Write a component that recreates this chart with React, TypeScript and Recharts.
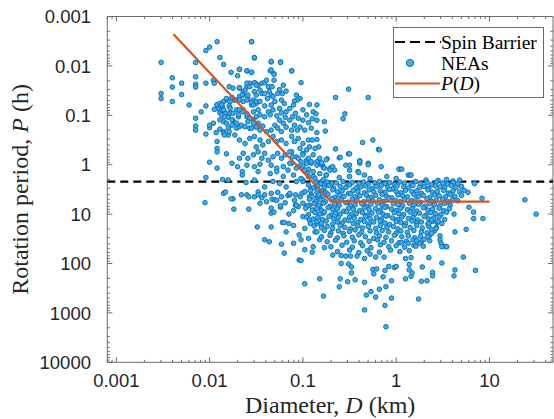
import React from 'react';
import { ScatterChart, Scatter, XAxis, YAxis } from 'recharts';

// ---------- layout constants (styling only) ----------
const W = 554;
const H = 419;
const PLOT = { left: 107.3, top: 16.5, right: 553, bottom: 362.3 };
const AX = 1; // thickness reserved for each axis band
const X_DOMAIN = [0.0008, 48];
const Y_DOMAIN = [0.001, 10000];
const BOX = '#6a6a6a';
const INK = '#262626';
const SERIF = '"Liberation Serif", "Times New Roman", serif';
const SANS = '"Liberation Sans", Arial, Helvetica, sans-serif';
const TITLE_SIZE = 24;

// ---------- axis ticks ----------
const xMajorTicks = [0.001, 0.01, 0.1, 1, 10];
const xTickLabels = ['0.001', '0.01', '0.1', '1', '10'];
const xMinorTicks = [
  0.0008, 0.0009,
  0.002, 0.003, 0.004, 0.005, 0.006, 0.007, 0.008, 0.009,
  0.02, 0.03, 0.04, 0.05, 0.06, 0.07, 0.08, 0.09,
  0.2, 0.3, 0.4, 0.5, 0.6, 0.7, 0.8, 0.9,
  2, 3, 4, 5, 6, 7, 8, 9,
  20, 30, 40,
];
const yMajorTicks = [0.001, 0.01, 0.1, 1, 10, 100, 1000, 10000];
const yTickLabels = ['0.001', '0.01', '0.1', '1', '10', '100', '1000', '10000'];
const yMinorTicks = [
  0.002, 0.003, 0.004, 0.005, 0.006, 0.007, 0.008, 0.009,
  0.02, 0.03, 0.04, 0.05, 0.06, 0.07, 0.08, 0.09,
  0.2, 0.3, 0.4, 0.5, 0.6, 0.7, 0.8, 0.9,
  2, 3, 4, 5, 6, 7, 8, 9,
  20, 30, 40, 50, 60, 70, 80, 90,
  200, 300, 400, 500, 600, 700, 800, 900,
  2000, 3000, 4000, 5000, 6000, 7000, 8000, 9000,
];

// ---------- reference lines ----------
const spinBarrierHours = 2.2;
const spinBarrierD = [0.0008, 48];
const pdDiameter = [0.0041, 0.2, 10];
const pdPeriod = [0.0023, 5.6, 5.6];

// ---------- NEA points as [log10 D (km), log10 P (h)] ----------
const neaSparseLeft: [number, number][] = [
  [-2.52, -2.07], [-2.52, -1.44], [-2.52, -1.34], [-2.40, -1.76], [-2.40, -1.57], [-2.40, -1.28],
  [-2.30, -1.65], [-2.30, -1.42], [-2.22, -1.21], [-2.15, -2.07], [-2.15, -1.78], [-2.15, -1.63],
  [-2.15, -1.57], [-2.04, -2.31], [-2.00, -2.38], [-1.92, -2.49], [-1.55, -2.49], [-1.89, -2.17],
  [-1.85, -2.03], [-1.52, -2.16], [-1.34, -2.08], [-1.24, -2.08], [-1.77, -1.87], [-1.68, -1.93],
  [-1.60, -1.90], [-1.55, -1.87], [-1.35, -1.90], [-1.31, -1.84], [-1.12, -1.90], [-2.04, -1.65],
  [-1.96, -1.71], [-1.95, -1.65], [-2.09, -1.07], [-2.15, -0.94], [-2.15, -0.78], [-2.15, -0.70],
  [-2.04, -1.19], [-2.00, -0.75], [-2.04, -0.62], [-1.79, -1.58], [-1.75, -1.55], [-1.92, -1.21],
  [-1.91, -1.13], [-1.89, -1.05], [-1.86, -1.17], [-1.85, -1.02], [-1.95, -1.12],
];

const neaLowerLeft: [number, number][] = [
  [-2.00, -0.05], [-2.04, 0.26], [-1.92, 0.07], [-1.92, -0.33], [-1.92, -0.26], [-1.82, -0.22],
  [-1.86, 0.30], [-1.80, 0.31], [-1.85, 0.58], [-1.83, 0.55], [-1.76, -0.03], [-1.70, 0.04],
  [-1.68, -0.13], [-2.05, 0.77], [-1.75, 0.69], [-1.77, 0.69], [-1.65, 0.14], [-1.65, 0.21],
  [-1.61, 0.36], [-1.60, 0.61], [-1.58, 0.65], [-1.52, 0.31], [-1.48, 0.14], [-1.48, 0.55],
  [-1.48, 0.61], [-1.85, -0.67], [-1.85, -0.64], [-1.80, -0.74], [-1.80, -0.60], [-1.92, -0.47],
  [-2.00, -0.80], [-1.96, -0.84], [-1.74, 0.90], [-1.66, 0.61], [-1.58, 0.90], [-1.52, 0.65],
  [-1.44, 0.67], [-1.41, 0.61], [-1.49, 1.26], [-1.34, 1.26], [-1.41, 1.52], [-1.36, 1.56],
  [-1.34, 0.98], [-1.31, 0.96], [-1.33, 0.70], [-1.30, 0.71], [-1.27, 0.56], [-1.24, 0.86],
  [-1.24, 0.83], [-1.22, 1.17], [-1.20, 1.17], [-1.15, 1.19], [-1.10, 1.23], [-1.18, 1.36],
  [-1.23, 1.61], [-1.20, 1.79], [-1.10, 1.59], [-1.19, 0.77], [-1.15, 1.00], [-1.10, 0.93],
  [-1.08, 0.82], [-1.05, 0.85], [-1.16, 0.62], [-1.14, 0.61], [-1.08, 0.61], [-1.04, 1.93],
  [-1.04, 1.42],
];

const neaBandUpper: [number, number][] = [
  [-1.92, -1.21], [-1.89, -1.24], [-1.85, -1.28], [-1.81, -1.31], [-1.76, -1.36], [-1.73, -1.31],
  [-1.79, -1.19], [-1.87, -1.11], [-1.83, -1.05], [-1.78, -1.04], [-1.71, -1.11], [-1.87, -1.01],
  [-1.80, -0.96], [-1.75, -0.90], [-1.69, -0.97], [-1.85, -0.87], [-1.76, -0.80], [-1.71, -0.74],
  [-1.79, -0.67], [-1.84, -0.60], [-1.73, -0.60], [-1.89, -0.72], [-1.93, -0.65],
  [-1.68, -1.55], [-1.64, -1.48], [-1.60, -1.58], [-1.57, -1.65], [-1.51, -1.65], [-1.48, -1.61],
  [-1.82, -1.34], [-1.78, -1.28], [-1.73, -1.31], [-1.68, -1.38], [-1.64, -1.41], [-1.59, -1.34],
  [-1.53, -1.31], [-1.50, -1.24], [-1.55, -1.21], [-1.78, -1.14], [-1.75, -1.04], [-1.69, -1.01],
  [-1.64, -1.11], [-1.60, -0.97], [-1.53, -0.91], [-1.50, -0.97], [-1.48, -0.84], [-1.87, -1.21],
  [-1.85, -1.11], [-1.84, -0.97], [-1.89, -0.91], [-1.82, -0.84], [-1.76, -0.91], [-1.71, -0.84],
  [-1.68, -0.77], [-1.57, -0.74], [-1.70, -1.80],
  [-1.12, -0.26], [-1.07, -0.16], [-1.00, -0.23], [-0.96, -0.09], [-0.89, -0.20], [-0.82, -0.13],
  [-0.79, 0.01], [-1.12, -0.03], [-1.05, 0.04],
];

const neaBandCore: [number, number][] = [
  [-1.55, -2.49], [-1.52, -2.17], [-1.68, -1.93], [-1.60, -1.90], [-1.55, -1.87], [-1.34, -2.09],
  [-1.24, -2.07], [-1.34, -1.92], [-1.31, -1.83], [-1.12, -1.90], [-1.31, -1.71], [-1.02, -1.66],
  [-1.68, -1.56], [-1.60, -1.65], [-1.57, -1.58], [-1.52, -1.66], [-1.50, -1.61], [-1.44, -1.65],
  [-1.41, -1.66], [-1.39, -1.71], [-1.37, -1.58], [-1.33, -1.58], [-1.21, -1.61], [-1.25, -1.52],
  [-1.22, -1.44], [-1.27, -1.44], [-1.18, -1.49], [-1.62, -1.51], [-1.52, -1.48], [-1.44, -1.44],
  [-1.50, -1.41], [-1.59, -1.41], [-1.65, -1.41], [-1.41, -1.44], [-1.46, -1.51], [-1.36, -1.48],
  [-1.34, -1.41], [-1.38, -1.34], [-1.32, -1.38], [-1.07, -1.41], [-1.03, -1.34], [-1.06, -1.31],
  [-1.09, -1.29], [-1.68, -1.31], [-1.64, -1.28], [-1.60, -1.31], [-1.55, -1.26], [-1.50, -1.28],
  [-1.46, -1.28], [-1.53, -1.21], [-1.34, -1.21], [-1.20, -1.24], [-0.93, -1.22], [-0.85, -1.21],
  [-0.65, -1.36], [-0.51, -1.53], [-0.30, -1.36], [-1.25, -1.14], [-1.41, -1.19], [-1.14, -1.14],
  [-1.10, -1.21], [-1.30, -1.28], [-1.23, -1.31],
  [-1.68, -1.11], [-1.64, -1.07], [-1.60, -1.03], [-1.57, -0.94], [-1.53, -1.07], [-1.48, -1.11],
  [-1.46, -1.01], [-1.41, -0.97], [-1.37, -1.07], [-1.35, -1.01], [-1.32, -1.11], [-1.28, -0.99],
  [-1.25, -0.90], [-1.23, -1.05], [-1.19, -0.96], [-1.18, -1.07], [-1.14, -0.90], [-1.11, -0.97],
  [-1.08, -1.04], [-1.05, -0.94], [-1.00, -0.90], [-1.00, -1.11], [-0.89, -1.07], [-0.86, -1.03],
  [-0.96, -1.01], [-0.90, -0.93], [-0.55, -1.03], [-0.57, -0.93], [-0.85, -0.90],
  [-1.66, -0.80], [-1.62, -0.77], [-1.59, -0.87], [-1.55, -0.74], [-1.53, -0.84], [-1.50, -0.76],
  [-1.46, -0.70], [-1.43, -0.78], [-1.39, -0.67], [-1.34, -0.70], [-1.30, -0.80], [-1.27, -0.74],
  [-1.23, -0.67], [-1.21, -0.84], [-1.18, -0.76], [-1.12, -0.70], [-1.09, -0.80], [-1.06, -0.70],
  [-1.03, -0.76], [-0.98, -0.70], [-0.94, -0.85], [-0.85, -0.65], [-0.76, -0.68], [-0.91, -0.74],
  [-0.77, -0.87],
  [-1.68, -0.50], [-1.62, -0.43], [-1.57, -0.53], [-1.52, -0.57], [-1.46, -0.50], [-1.50, -0.36],
  [-1.43, -0.40], [-1.37, -0.47], [-1.32, -0.57], [-1.28, -0.47], [-1.23, -0.50], [-1.18, -0.43],
  [-1.12, -0.57], [-1.09, -0.47], [-1.05, -0.53], [-1.00, -0.43], [-0.94, -0.50], [-0.90, -0.50],
  [-0.85, -0.51], [-0.93, -0.36], [-0.83, -0.36], [-0.87, -0.33], [-1.03, -0.33], [-0.96, -0.30],
  [-0.65, -0.32], [-0.36, -0.45], [-0.25, -0.50], [-0.19, -0.31],
  [-1.64, -0.23], [-1.59, -0.13], [-1.53, -0.20], [-1.48, -0.26], [-1.44, -0.13], [-1.41, -0.23],
  [-1.37, -0.09], [-1.32, -0.16], [-1.27, -0.23], [-1.23, -0.13], [-1.19, -0.20], [-1.14, -0.26],
  [-1.11, -0.16], [-1.05, -0.13], [-1.00, -0.20], [-0.94, -0.13], [-0.91, -0.03], [-0.85, -0.06],
  [-0.81, -0.01], [-0.78, 0.06], [-0.74, -0.12], [-0.61, -0.14], [-0.51, -0.22], [-0.39, -0.08],
  [-0.30, -0.03], [-0.50, 0.01], [-0.71, 0.07], [-0.68, 0.04], [-1.60, 0.01], [-1.52, 0.04],
  [-1.46, -0.01], [-1.34, 0.01], [-1.28, 0.07], [-1.21, 0.04], [-1.14, -0.03], [-1.07, 0.07],
  [-1.00, 0.03], [-0.94, 0.09],
];

const neaJunction: [number, number][] = [
  [-1.35, 0.18], [-1.28, 0.14], [-1.21, 0.24], [-1.16, 0.11], [-1.10, 0.21], [-1.32, 0.34],
  [-1.25, 0.38], [-1.18, 0.45], [-1.07, 0.34], [-1.00, 0.31], [-0.95, 0.18], [-0.89, 0.24],
  [-0.86, 0.45], [-0.80, 0.34], [-0.75, 0.21], [-0.77, 0.55], [-0.84, 0.65], [-0.91, 0.61],
  [-0.98, 0.55], [-1.03, 0.65], [-1.09, 0.72], [-1.14, 0.58], [-1.23, 0.65], [-1.28, 0.72],
  [-1.34, 0.58], [-1.39, 0.75], [-1.46, 0.78], [-1.41, 0.45], [-1.07, 0.82], [-1.00, 0.78],
  [-0.93, 0.82], [-1.34, 0.88],
  [-1.01, 0.58], [-0.98, 0.55], [-0.93, 0.65], [-0.87, 0.75], [-0.84, 0.65], [-0.96, 0.85],
  [-0.89, 0.92], [-0.82, 0.85], [-0.78, 0.98], [-1.00, 1.05], [-0.93, 1.12], [-0.85, 1.19],
  [-0.98, 1.29], [-0.80, 1.25], [-0.87, 1.36], [-0.94, 1.49], [-0.82, 1.52], [-1.02, 1.52],
  [-0.89, 1.66], [-0.77, 0.41], [-0.85, 0.38], [-0.94, 0.41], [-1.00, 0.34], [-0.91, 0.48],
];

const neaAboveBarrier: [number, number][] = [
  [-0.54, 0.01], [-0.39, -0.03], [-0.30, 0.00], [-0.16, 0.04], [0.04, 0.09], [-0.50, 0.11],
  [-0.41, 0.14], [-0.50, 0.24], [-0.61, 0.26], [-0.28, 0.28], [-0.34, 0.21], [-0.10, 0.24],
  [0.00, 0.28], [0.13, 0.21], [-0.66, 0.11],
  [-1.02, -0.06], [-0.96, -0.03], [-0.91, -0.06], [-0.85, 0.01], [-0.80, -0.04], [-0.77, 0.07],
  [-0.98, 0.11], [-0.89, 0.14], [-0.82, 0.18], [-0.75, 0.21], [-0.94, 0.24], [-1.02, 0.28],
  [-0.87, 0.28], [-0.78, 0.30],
  [-0.50, -0.22], [-0.60, -0.15], [-0.39, -0.07], [-0.18, -0.30], [0.03, 0.09], [0.15, 0.21],
  [-0.75, -0.10], [-0.40, 0.16], [-0.71, 0.11],
  [0.32, 0.31], [0.45, 0.32], [0.54, 0.30], [0.61, 0.33], [0.68, 0.31], [0.84, 0.38],
  [0.16, 0.21], [0.06, 0.09],
];

// dense main cluster (0.1–5 km, 2–15 h)
const neaClusterCore: [number, number][] = [
  [-0.86, 0.36], [-0.81, 0.39], [-0.74, 0.35], [-0.69, 0.38], [-0.64, 0.37], [-0.57, 0.34], [-0.52, 0.40],
  [-0.47, 0.36], [-0.40, 0.38], [-0.35, 0.35], [-0.30, 0.39], [-0.23, 0.37], [-0.18, 0.34], [-0.12, 0.38],
  [-0.07, 0.36], [-0.02, 0.40], [0.04, 0.35], [0.09, 0.37], [0.16, 0.39], [0.21, 0.34], [0.26, 0.38],
  [0.33, 0.36], [0.38, 0.40], [0.43, 0.35], [0.50, 0.37], [0.55, 0.39], [0.61, 0.36], [0.66, 0.38],
  [-0.89, 0.47], [-0.84, 0.43], [-0.77, 0.46], [-0.72, 0.42], [-0.67, 0.48], [-0.60, 0.44], [-0.54, 0.46],
  [-0.50, 0.41], [-0.43, 0.47], [-0.38, 0.45], [-0.33, 0.43], [-0.26, 0.48], [-0.21, 0.44], [-0.16, 0.42],
  [-0.09, 0.46], [-0.04, 0.49], [0.01, 0.43], [0.08, 0.45], [0.13, 0.47], [0.18, 0.42], [0.25, 0.46],
  [0.30, 0.44], [0.35, 0.48], [0.42, 0.43], [0.47, 0.45], [0.52, 0.47], [0.59, 0.42], [0.64, 0.46],
  [0.70, 0.44],
  [-0.92, 0.52], [-0.85, 0.56], [-0.80, 0.53], [-0.75, 0.57], [-0.68, 0.51], [-0.63, 0.55], [-0.58, 0.53],
  [-0.51, 0.58], [-0.46, 0.52], [-0.41, 0.54], [-0.34, 0.57], [-0.29, 0.51], [-0.24, 0.55], [-0.17, 0.53],
  [-0.12, 0.56], [-0.07, 0.50], [0.00, 0.54], [0.05, 0.57], [0.10, 0.52], [0.17, 0.55], [0.22, 0.53],
  [0.27, 0.58], [0.34, 0.51], [0.39, 0.56], [0.44, 0.54], [0.51, 0.52], [0.56, 0.57], [0.61, 0.53],
  [0.68, 0.55], [0.73, 0.52],
  [-0.90, 0.65], [-0.83, 0.61], [-0.78, 0.64], [-0.73, 0.60], [-0.66, 0.66], [-0.61, 0.62], [-0.56, 0.64],
  [-0.49, 0.59], [-0.44, 0.65], [-0.39, 0.63], [-0.32, 0.61], [-0.27, 0.66], [-0.22, 0.62], [-0.15, 0.60],
  [-0.10, 0.64], [-0.05, 0.67], [0.02, 0.61], [0.07, 0.63], [0.12, 0.65], [0.19, 0.60], [0.24, 0.64],
  [0.29, 0.62], [0.36, 0.66], [0.41, 0.61], [0.46, 0.63], [0.53, 0.65], [0.58, 0.60], [0.63, 0.64],
  [0.70, 0.62],
  [-0.93, 0.70], [-0.86, 0.74], [-0.81, 0.71], [-0.76, 0.75], [-0.69, 0.69], [-0.64, 0.73], [-0.59, 0.71],
  [-0.52, 0.76], [-0.47, 0.70], [-0.42, 0.72], [-0.35, 0.75], [-0.30, 0.69], [-0.25, 0.73], [-0.18, 0.71],
  [-0.13, 0.74], [-0.08, 0.68], [-0.01, 0.72], [0.04, 0.75], [0.09, 0.70], [0.16, 0.73], [0.21, 0.71],
  [0.26, 0.76], [0.33, 0.69], [0.38, 0.74], [0.43, 0.72], [0.50, 0.70], [0.55, 0.75], [0.60, 0.71],
  [0.66, 0.73],
  [-0.95, 0.83], [-0.88, 0.79], [-0.83, 0.82], [-0.78, 0.78], [-0.71, 0.84], [-0.66, 0.80], [-0.61, 0.82],
  [-0.54, 0.77], [-0.49, 0.83], [-0.44, 0.81], [-0.37, 0.79], [-0.32, 0.84], [-0.27, 0.80], [-0.20, 0.78],
  [-0.15, 0.82], [-0.10, 0.85], [-0.03, 0.79], [0.02, 0.81], [0.07, 0.83], [0.14, 0.78], [0.19, 0.82],
  [0.24, 0.80], [0.31, 0.84], [0.36, 0.79], [0.41, 0.81], [0.47, 0.83], [0.52, 0.78], [0.58, 0.82],
  [-0.97, 0.88], [-0.90, 0.92], [-0.85, 0.89], [-0.80, 0.93], [-0.73, 0.87], [-0.68, 0.91], [-0.63, 0.89],
  [-0.56, 0.94], [-0.51, 0.88], [-0.46, 0.90], [-0.39, 0.93], [-0.34, 0.87], [-0.29, 0.91], [-0.22, 0.89],
  [-0.17, 0.92], [-0.12, 0.86], [-0.05, 0.90], [0.00, 0.93], [0.05, 0.88], [0.12, 0.91], [0.17, 0.89],
  [0.22, 0.94], [0.29, 0.87], [0.34, 0.92], [0.39, 0.90], [0.46, 0.88], [0.51, 0.93], [0.57, 0.89],
  [-0.94, 1.01], [-0.87, 0.97], [-0.82, 1.00], [-0.77, 0.96], [-0.70, 1.02], [-0.65, 0.98], [-0.60, 1.00],
  [-0.53, 0.95], [-0.48, 1.01], [-0.43, 0.99], [-0.36, 0.97], [-0.31, 1.02], [-0.26, 0.98], [-0.19, 0.96],
  [-0.14, 1.00], [-0.09, 1.03], [-0.02, 0.97], [0.03, 0.99], [0.08, 1.01], [0.15, 0.96], [0.20, 1.00],
  [0.25, 0.98], [0.32, 1.02], [0.37, 0.97], [0.42, 0.99], [0.48, 1.01], [0.54, 0.96],
  [-0.96, 1.06], [-0.89, 1.10], [-0.84, 1.07], [-0.79, 1.11], [-0.72, 1.05], [-0.67, 1.09], [-0.62, 1.07],
  [-0.55, 1.12], [-0.50, 1.06], [-0.45, 1.08], [-0.38, 1.11], [-0.33, 1.05], [-0.28, 1.09], [-0.21, 1.07],
  [-0.16, 1.10], [-0.11, 1.04], [-0.04, 1.08], [0.01, 1.11], [0.06, 1.06], [0.13, 1.09], [0.18, 1.07],
  [0.23, 1.12], [0.30, 1.05], [0.35, 1.10], [0.40, 1.08], [0.46, 1.06], [0.52, 1.11],
  [-0.92, 1.19], [-0.85, 1.15], [-0.80, 1.18], [-0.75, 1.14], [-0.68, 1.20], [-0.63, 1.16], [-0.58, 1.18],
  [-0.51, 1.13], [-0.46, 1.19], [-0.41, 1.17], [-0.34, 1.15], [-0.29, 1.20], [-0.24, 1.16], [-0.17, 1.14],
  [-0.12, 1.18], [-0.07, 1.21], [0.00, 1.15], [0.05, 1.17], [0.10, 1.19], [0.17, 1.14], [0.22, 1.18],
  [0.27, 1.16], [0.34, 1.20], [0.39, 1.15], [0.44, 1.17], [0.49, 1.19],
];

const neaClusterLower: [number, number][] = [
  [-0.88, 1.24], [-0.80, 1.28], [-0.74, 1.25], [-0.68, 1.29], [-0.60, 1.23], [-0.55, 1.27], [-0.49, 1.30],
  [-0.41, 1.24], [-0.36, 1.28], [-0.30, 1.25], [-0.22, 1.29], [-0.17, 1.23], [-0.10, 1.27], [-0.03, 1.25],
  [0.02, 1.30], [0.09, 1.24], [0.15, 1.27], [0.22, 1.23], [0.28, 1.28], [0.35, 1.25], [0.43, 1.27],
  [-0.85, 1.36], [-0.77, 1.33], [-0.70, 1.38], [-0.62, 1.34], [-0.57, 1.39], [-0.50, 1.35], [-0.44, 1.32],
  [-0.37, 1.37], [-0.28, 1.34], [-0.21, 1.38], [-0.15, 1.33], [-0.08, 1.36], [0.00, 1.39], [0.05, 1.34],
  [0.12, 1.37], [0.19, 1.33], [0.27, 1.36], [0.33, 1.38], [0.41, 1.34],
  [-0.80, 1.46], [-0.71, 1.43], [-0.63, 1.48], [-0.56, 1.44], [-0.47, 1.47], [-0.40, 1.42], [-0.33, 1.46],
  [-0.24, 1.49], [-0.18, 1.44], [-0.11, 1.47], [-0.02, 1.43], [0.06, 1.46], [0.13, 1.44], [0.20, 1.48],
  [0.26, 1.45], [0.36, 1.43],
  [-0.74, 1.56], [-0.65, 1.53], [-0.53, 1.57], [-0.45, 1.54], [-0.38, 1.58], [-0.29, 1.55], [-0.20, 1.52],
  [-0.13, 1.57], [-0.05, 1.54], [0.03, 1.58], [0.11, 1.55], [0.18, 1.52], [0.27, 1.56],
  [-0.70, 1.66], [-0.58, 1.63], [-0.47, 1.67], [-0.36, 1.64], [-0.27, 1.68], [-0.17, 1.62], [-0.08, 1.66],
  [0.00, 1.64], [0.09, 1.67], [0.19, 1.63],
  [-0.63, 1.76], [-0.50, 1.73], [-0.40, 1.78], [-0.31, 1.74], [-0.18, 1.77], [-0.06, 1.73], [0.04, 1.76],
  [0.14, 1.74],
];

const neaRightEdge: [number, number][] = [
  [0.77, 0.56], [0.92, 0.68], [0.78, 0.86], [0.83, 0.96], [0.83, 1.09], [0.93, 1.09], [0.62, 1.00],
  [0.63, 1.36], [0.75, 1.31], [0.45, 1.15], [0.38, 1.12], [0.35, 1.19], [0.43, 1.29], [0.38, 1.31],
  [0.47, 1.44], [0.47, 1.52], [0.38, 1.39], [0.34, 1.46], [0.30, 1.51], [0.36, 1.54], [0.25, 1.59],
  [0.29, 1.65], [0.22, 1.54], [0.21, 1.65], [0.48, 1.59], [0.51, 1.65], [0.54, 1.66], [0.13, 1.59],
  [0.06, 1.58], [1.38, 0.71], [1.50, 1.00],
];

const neaLowerTail: [number, number][] = [
  [-0.98, 1.72], [-0.90, 1.77], [-1.02, 1.94], [-0.98, 2.41], [-0.82, 2.31], [-0.78, 2.66], [-0.60, 2.31],
  [-0.61, 2.47], [-0.52, 2.37], [-0.44, 2.33], [-0.34, 2.38], [-0.59, 2.00], [-0.51, 2.01], [-0.48, 2.07],
  [-0.48, 2.19], [-0.25, 2.12], [-0.21, 2.11], [-0.24, 2.21], [-0.12, 2.14], [-0.08, 2.06], [-0.02, 2.08],
  [0.00, 2.06], [-0.14, 2.27], [-0.05, 2.35], [-0.11, 2.47], [-0.18, 2.52], [-0.27, 2.57], [-0.32, 2.64],
  [-0.22, 2.68], [-0.05, 2.70], [-0.12, 2.85], [-0.34, 2.94], [-0.11, 3.28], [0.10, 2.31], [0.16, 2.26],
  [0.17, 2.19], [0.14, 2.13], [0.14, 2.02], [0.24, 2.72], [0.28, 2.07], [0.27, 2.36], [0.33, 2.35],
  [0.39, 2.18], [0.39, 2.25], [0.49, 1.99], [0.62, 2.25], [0.63, 2.13], [0.72, 1.87], [0.85, 2.14],
  [-0.77, 1.68], [-0.68, 1.83], [-0.59, 1.84], [-0.54, 1.85], [-0.49, 1.85], [-0.42, 1.85], [-0.34, 1.90],
  [-0.28, 1.81], [-0.22, 1.87], [-0.13, 1.87], [0.10, 1.90], [0.16, 1.88], [0.35, 1.88], [0.49, 1.66],
  [0.54, 1.66],
];

// ---------- build chart data ----------
const fromLogPairs = (pairs: [number, number][]) =>
  pairs.map(([ld, lp]) => ({ d: Math.pow(10, ld), p: Math.pow(10, lp) }));

const neaData = [
  ...fromLogPairs(neaSparseLeft),
  ...fromLogPairs(neaLowerLeft),
  ...fromLogPairs(neaBandUpper),
  ...fromLogPairs(neaBandCore),
  ...fromLogPairs(neaJunction),
  ...fromLogPairs(neaAboveBarrier),
  ...fromLogPairs(neaClusterCore),
  ...fromLogPairs(neaClusterLower),
  ...fromLogPairs(neaRightEdge),
  ...fromLogPairs(neaLowerTail),
];

const barrierData = spinBarrierD.map((d) => ({ d, p: spinBarrierHours }));
const pdData = pdDiameter.map((d, i) => ({ d, p: pdPeriod[i] }));

// ---------- custom render pieces ----------
const XTick = (props: any) => {
  const { x, payload } = props;
  const idx = xMajorTicks.indexOf(payload.value);
  const len = idx >= 0 ? 5 : 2.5;
  return (
    <g>
      <line x1={x} x2={x} y1={PLOT.bottom} y2={PLOT.bottom - len} stroke={BOX} strokeWidth={1} />
      <line x1={x} x2={x} y1={PLOT.top} y2={PLOT.top + len} stroke={BOX} strokeWidth={1} />
      {idx >= 0 && (
        <text x={x} y={PLOT.bottom + 25} textAnchor="middle" fontFamily={SANS} fontSize={18.5} fill={INK}>
          {xTickLabels[idx]}
        </text>
      )}
    </g>
  );
};

const YTick = (props: any) => {
  const { y, payload } = props;
  const idx = yMajorTicks.indexOf(payload.value);
  const len = idx >= 0 ? 5 : 2.5;
  return (
    <g>
      <line x1={PLOT.left} x2={PLOT.left + len} y1={y} y2={y} stroke={BOX} strokeWidth={1} />
      <line x1={PLOT.right} x2={PLOT.right - len} y1={y} y2={y} stroke={BOX} strokeWidth={1} />
      {idx >= 0 && (
        <text x={91} y={y} dy="0.36em" textAnchor="end" fontFamily={SANS} fontSize={18.5} fill={INK}>
          {yTickLabels[idx]}
        </text>
      )}
    </g>
  );
};

const XTitle = () => (
  <text x={(PLOT.left + PLOT.right) / 2} y={413} textAnchor="middle" fontFamily={SERIF} fontSize={TITLE_SIZE} fill={INK}>
    Diameter, <tspan fontStyle="italic">D</tspan> (km)
  </text>
);

const YTitle = () => (
  <text
    transform={`translate(28, ${(PLOT.top + PLOT.bottom) / 2}) rotate(-90)`}
    textAnchor="middle"
    fontFamily={SERIF}
    fontSize={TITLE_SIZE}
    fill={INK}
  >
    Rotation period, <tspan fontStyle="italic">P</tspan> (h)
  </text>
);

const NeaDot = (props: any) => (
  <circle cx={props.cx} cy={props.cy} r={2.3} fill="#45ACE6" stroke="#0872BD" strokeWidth={1} />
);
const NoDot = () => <g />;

const LegendBox = () => (
  <div
    style={{
      position: 'absolute',
      left: 393,
      top: 27,
      width: 151,
      height: 71,
      boxSizing: 'border-box',
      border: '1px solid #6a6a6a',
      background: '#fff',
    }}
  >
    <svg width={149} height={69} style={{ display: 'block' }}>
      <line x1={1} x2={47} y1={14} y2={14} stroke="#000" strokeWidth={2} strokeDasharray="10 5" />
      <text x={47} y={20.5} fontFamily={SERIF} fontSize={19.5} fill="#000">Spin Barrier</text>
      <circle cx={16} cy={35} r={3.6} fill="#45ACE6" stroke="#0872BD" strokeWidth={1} />
      <text x={47} y={41.5} fontFamily={SERIF} fontSize={19.5} fill="#000">NEAs</text>
      <line x1={1} x2={46} y1={55.5} y2={55.5} stroke="#D95319" strokeWidth={2} />
      <text x={47} y={62} fontFamily={SERIF} fontSize={19.5} fill="#000">
        <tspan fontStyle="italic">P</tspan>(<tspan fontStyle="italic">D</tspan>)
      </text>
    </svg>
  </div>
);

export default function App() {
  return (
    <div style={{ position: 'absolute', left: 0, top: 0, width: W, height: H, background: '#fff' }}>
      <ScatterChart
        width={W}
        height={H}
        margin={{
          top: PLOT.top - AX,
          right: W - PLOT.right - AX,
          bottom: H - PLOT.bottom - AX,
          left: PLOT.left - AX,
        }}
      >
        <XAxis
          dataKey="d"
          type="number"
          scale="log"
          domain={X_DOMAIN}
          allowDataOverflow
          ticks={[...xMajorTicks, ...xMinorTicks]}
          interval={0}
          tick={<XTick />}
          tickLine={false}
          tickSize={0}
          tickMargin={0}
          height={AX}
          axisLine={{ stroke: BOX, strokeWidth: 1 }}
          label={<XTitle />}
        />
        <YAxis
          dataKey="p"
          type="number"
          scale="log"
          domain={Y_DOMAIN}
          allowDataOverflow
          reversed
          ticks={[...yMajorTicks, ...yMinorTicks]}
          interval={0}
          tick={<YTick />}
          tickLine={false}
          tickSize={0}
          tickMargin={0}
          width={AX}
          axisLine={{ stroke: BOX, strokeWidth: 1 }}
          label={<YTitle />}
        />
        <XAxis
          xAxisId="top"
          orientation="top"
          dataKey="d"
          type="number"
          scale="log"
          domain={X_DOMAIN}
          allowDataOverflow
          height={AX}
          tick={false}
          tickLine={false}
          axisLine={{ stroke: BOX, strokeWidth: 1 }}
        />
        <YAxis
          yAxisId="right"
          orientation="right"
          dataKey="p"
          type="number"
          scale="log"
          domain={Y_DOMAIN}
          allowDataOverflow
          reversed
          width={AX}
          tick={false}
          tickLine={false}
          axisLine={{ stroke: BOX, strokeWidth: 1 }}
        />
        <Scatter
          name="Spin Barrier"
          data={barrierData}
          shape={<NoDot />}
          line={{ stroke: '#000', strokeWidth: 2.2, strokeDasharray: '8 5' }}
          isAnimationActive={false}
        />
        <Scatter name="NEAs" data={neaData} shape={<NeaDot />} isAnimationActive={false} />
        <Scatter
          name="P(D)"
          data={pdData}
          shape={<NoDot />}
          line={{ stroke: '#D95319', strokeWidth: 2.2 }}
          isAnimationActive={false}
        />
      </ScatterChart>
      <LegendBox />
    </div>
  );
}
